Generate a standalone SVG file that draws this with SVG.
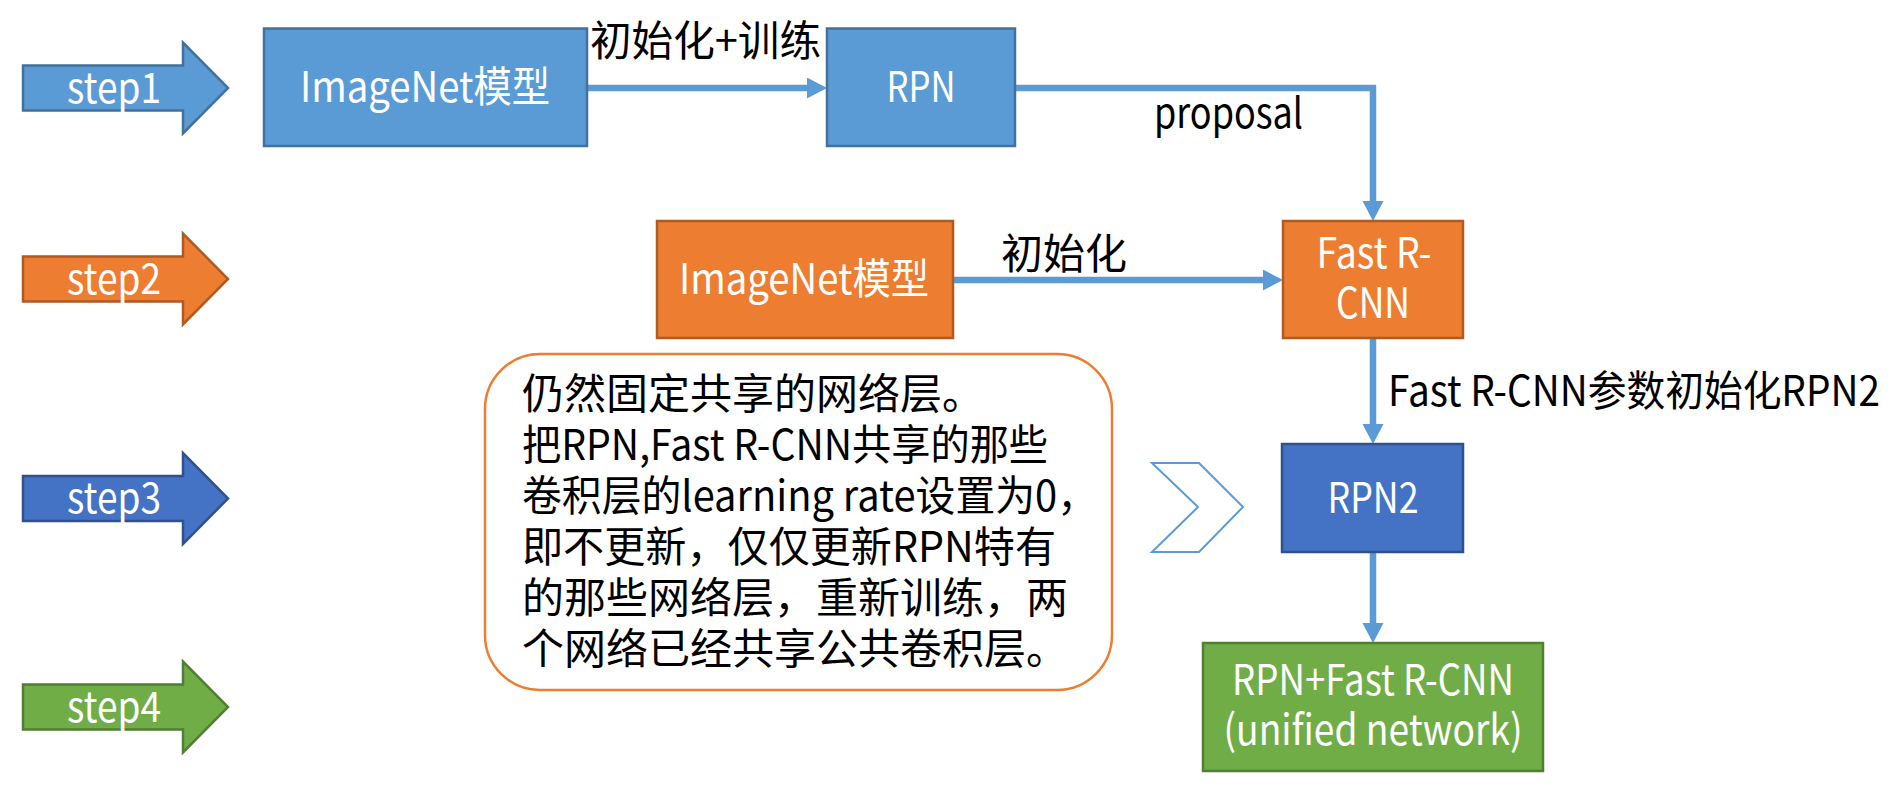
<svg xmlns="http://www.w3.org/2000/svg" width="1894" height="789" viewBox="0 0 1894 789">
<style>
text{font-family:"Noto Sans CJK SC","Noto Sans",sans-serif;font-size:42px}
.w{fill:#ffffff;text-anchor:middle}
.k{fill:#000000}
.blue{fill:#5B9BD5;stroke:#41719C;stroke-width:2.5}
.orange{fill:#ED7D31;stroke:#AE5A21;stroke-width:2.5}
.dblue{fill:#4472C4;stroke:#2F528F;stroke-width:2.5}
.green{fill:#70AD47;stroke:#507E32;stroke-width:2.5}
.conn{fill:none;stroke:#5B9BD5;stroke-width:6.5;stroke-linejoin:miter;marker-end:url(#ah)}
</style>
<defs>
<marker id="ah" markerUnits="userSpaceOnUse" markerWidth="21" markerHeight="22" refX="0" refY="10.5" orient="auto" viewBox="0 0 21 22">
<path d="M0,0 L20,10.5 L0,21 Z" fill="#5B9BD5"/>
</marker>
</defs>
<rect width="1894" height="789" fill="#ffffff"/>

<g id="step1">
<polygon class="blue" points="23,65.5 183,65.5 183,42.5 228,88 183,133.5 183,110.5 23,110.5"/>
<text class="w" x="114" y="103" textLength="94" lengthAdjust="spacingAndGlyphs">step1</text>
</g>
<g id="step2">
<polygon class="orange" points="23,256.5 183,256.5 183,233.5 228,279 183,324.5 183,301.5 23,301.5"/>
<text class="w" x="114" y="294" textLength="94" lengthAdjust="spacingAndGlyphs">step2</text>
</g>
<g id="step3">
<polygon class="dblue" points="23,476 183,476 183,453 228,498.5 183,544 183,521 23,521"/>
<text class="w" x="114" y="513" textLength="94" lengthAdjust="spacingAndGlyphs">step3</text>
</g>
<g id="step4">
<polygon class="green" points="23,684.5 183,684.5 183,661.5 228,707 183,752.5 183,729.5 23,729.5"/>
<text class="w" x="114" y="722" textLength="94" lengthAdjust="spacingAndGlyphs">step4</text>
</g>

<g id="connectors">
<path class="conn" d="M587,88 H807"/>
<path class="conn" d="M1015,88 H1373 V201"/>
<path class="conn" d="M953,280 H1263"/>
<path class="conn" d="M1373,338 V424"/>
<path class="conn" d="M1373,552 V623"/>
<text class="k" x="590" y="56" textLength="231" lengthAdjust="spacingAndGlyphs">初始化+训练</text>
<text class="k" x="1154" y="128" textLength="149" lengthAdjust="spacingAndGlyphs">proposal</text>
<text class="k" x="1001" y="269">初始化</text>
<text class="k" x="1388" y="406" textLength="492" lengthAdjust="spacingAndGlyphs">Fast R-CNN参数初始化RPN2</text>
</g>

<g id="imagenet1">
<rect class="blue" x="264" y="28.5" width="323" height="117.5"/>
<text class="w" x="425" y="102" textLength="250" lengthAdjust="spacingAndGlyphs">ImageNet模型</text>
</g>
<g id="rpn">
<rect class="blue" x="827" y="28.5" width="188" height="117.5"/>
<text class="w" x="921" y="102" textLength="69" lengthAdjust="spacingAndGlyphs">RPN</text>
</g>
<g id="imagenet2">
<rect class="orange" x="657" y="221" width="296" height="117"/>
<text class="w" x="804" y="294" textLength="250" lengthAdjust="spacingAndGlyphs">ImageNet模型</text>
</g>
<g id="fastrcnn">
<rect class="orange" x="1283" y="221" width="180" height="117"/>
<text class="w" x="1374" y="268" textLength="115" lengthAdjust="spacingAndGlyphs">Fast R-</text>
<text class="w" x="1373" y="318" textLength="74" lengthAdjust="spacingAndGlyphs">CNN</text>
</g>
<g id="rpn2">
<rect class="dblue" x="1282" y="444" width="181" height="108"/>
<text class="w" x="1373" y="513" textLength="91" lengthAdjust="spacingAndGlyphs">RPN2</text>
</g>
<g id="unified">
<rect class="green" x="1203" y="643" width="340" height="128"/>
<text class="w" x="1373" y="695" textLength="282" lengthAdjust="spacingAndGlyphs">RPN+Fast R-CNN</text>
<text class="w" x="1373" y="745" textLength="299" lengthAdjust="spacingAndGlyphs">(unified network)</text>
</g>
<g id="note">
<rect x="485" y="354" width="627" height="336" rx="55" ry="55" fill="#ffffff" stroke="#ED7D31" stroke-width="2.5"/>
<text class="k" x="522" y="409">仍然固定共享的网络层。</text>
<text class="k" x="522" y="460" textLength="526" lengthAdjust="spacingAndGlyphs">把RPN,Fast R-CNN共享的那些</text>
<text class="k" x="522" y="511" textLength="575" lengthAdjust="spacingAndGlyphs">卷积层的learning rate设置为0，</text>
<text class="k" x="522" y="562" textLength="534" lengthAdjust="spacingAndGlyphs">即不更新，仅仅更新RPN特有</text>
<text class="k" x="522" y="613">的那些网络层，重新训练，两</text>
<text class="k" x="522" y="664">个网络已经共享公共卷积层。</text>
</g>
<g id="chevron">
<polygon points="1152,463 1199,463 1243,507 1199,552 1152,552 1198,507" fill="#ffffff" stroke="#5B9BD5" stroke-width="2"/>
</g>
</svg>
